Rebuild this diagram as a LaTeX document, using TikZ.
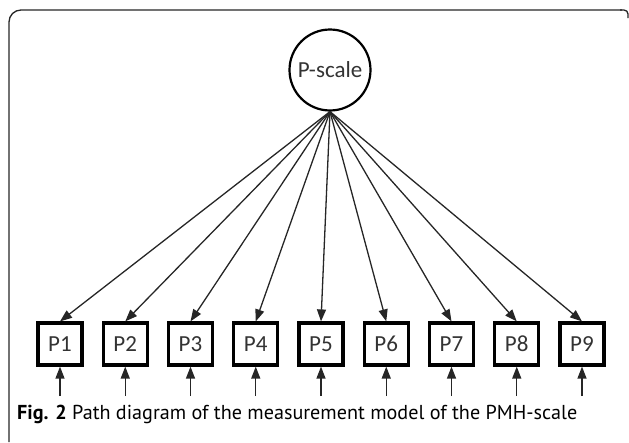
\documentclass[tikz,border=0pt]{standalone}
\usepackage{fontspec}
\setmainfont{Carlito}
\newfontfamily\capfont{PT Sans}
\usetikzlibrary{arrows.meta}
\newcommand{\lblsize}{\fontsize{23}{27}\selectfont}
\begin{document}
\begin{tikzpicture}[x=1pt,y=-1pt,
  obs/.style={draw=black,line width=3.2pt,minimum width=44pt,minimum height=42pt,inner sep=0pt,font=\lblsize,text=black!80},
  lat/.style={draw=black,circle,line width=2.2pt,minimum size=81pt,inner sep=0pt,font=\lblsize,text=black!80},
  load/.style={line width=1.3pt,draw=black!85,-{Triangle[length=12pt,width=9pt]}},
  err/.style={line width=1.3pt,draw=black!85,-{Triangle[length=12pt,width=9pt]}},
  frame/.style={draw=black!85,line width=1.3pt}]
\useasboundingbox (0,0) rectangle (629,442);
\draw[frame,rounded corners=12pt] (9,442) -- (9,10) -- (622,10);
\draw[frame,rounded corners=4pt] (620,10) -- (628,10) -- (628,18);
\node[lat] (ps) at (330,70) {P-scale};
\foreach \i in {1,...,9}{
  \node[obs] (p\i) at ({60+(\i-1)*65.25},344) {P\i};
  \coordinate (e\i) at ({60+(\i-1)*65.25},396);
  \draw[load] (ps.south) -- (p\i.north);
  \draw[err] (e\i) -- (p\i.south);
}
\node[anchor=base west,inner sep=0pt] (cap) at (17,419) {\resizebox{560pt}{!}{\capfont\textbf{Fig. 2} Path diagram of the measurement model of the PMH-scale}};
\end{tikzpicture}
\end{document}
